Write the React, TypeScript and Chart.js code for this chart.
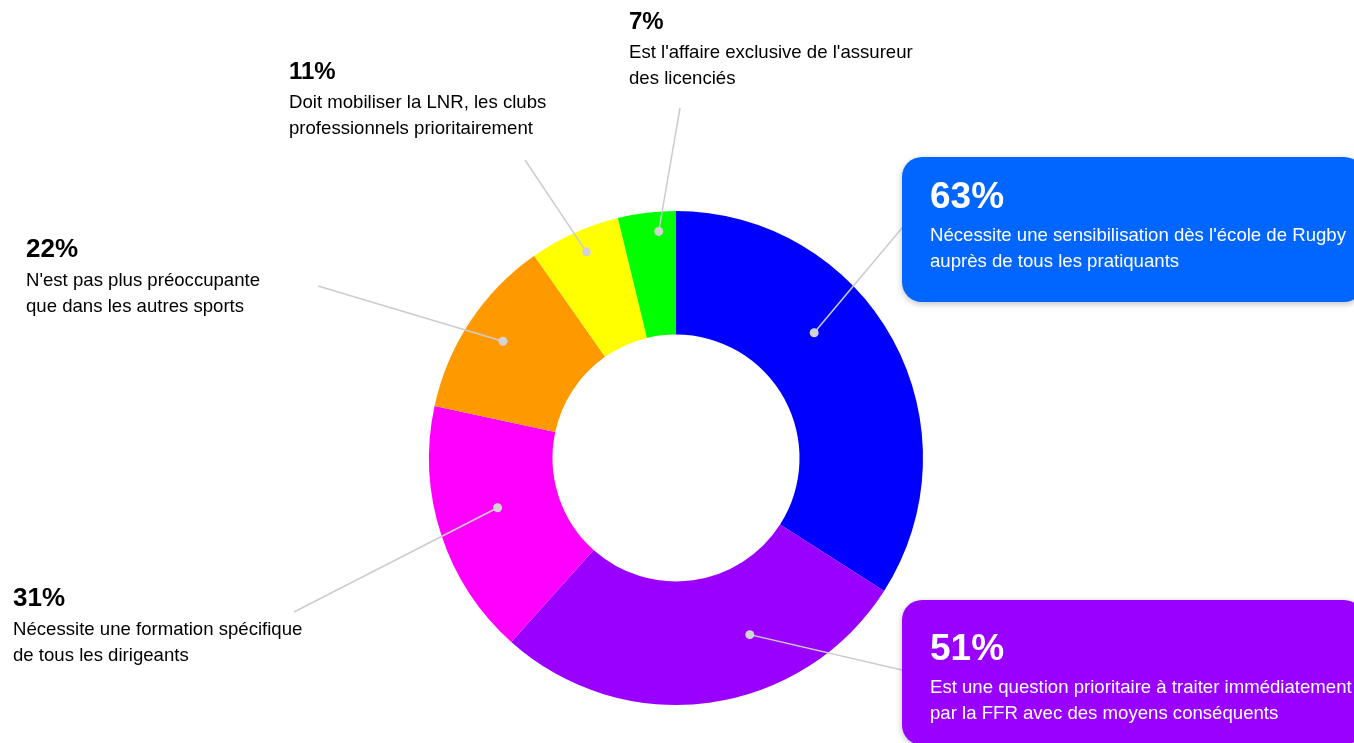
import React, { useEffect, useRef } from "react";
import { Chart, registerables } from "chart.js";

Chart.register(...registerables);

// ---- Data ----
const categories: string[][] = [
  ["Nécessite une sensibilisation dès l'école de Rugby", "auprès de tous les pratiquants"],
  ["Est une question prioritaire à traiter immédiatement", "par la FFR avec des moyens conséquents"],
  ["Nécessite une formation spécifique", "de tous les dirigeants"],
  ["N'est pas plus préoccupante", "que dans les autres sports"],
  ["Doit mobiliser la LNR, les clubs", "professionnels prioritairement"],
  ["Est l'affaire exclusive de l'assureur", "des licenciés"],
];
const values: number[] = [63, 51, 31, 22, 11, 7];
const sliceColors: string[] = ["#0000ff", "#9900ff", "#ff00ff", "#ff9900", "#ffff00", "#00ff00"];
const boxColors: (string | null)[] = ["#0066ff", "#9900ff", null, null, null, null];

// ---- Callout layout (text position, leader start, anchor inside slice) ----
const calloutLayout = [
  { x: 930, y: 208, t: 37, lx: 902, ly: 228, f: 0.39, r: 0.51, box: { x: 902, y: 157, w: 462, h: 145 } },
  { x: 930, y: 660, t: 37, lx: 902, ly: 670, f: 0.35, r: 0.55, box: { x: 902, y: 600, w: 462, h: 145 } },
  { x: 13, y: 606, t: 26, lx: 294, ly: 612, f: 0.54, r: 0.5, box: null },
  { x: 26, y: 257, t: 26, lx: 318, ly: 286, f: 0.51, r: 0.69, box: null },
  { x: 289, y: 79, t: 24, lx: 525, ly: 160, f: 0.54, r: 0.82, box: null },
  { x: 629, y: 29, t: 24, lx: 680, ly: 108, f: 0.68, r: 0.84, box: null },
];

const FONT = "'Liberation Sans', Arial, sans-serif";

const calloutPlugin = {
  id: "callouts",
  afterDatasetsDraw(chart: any) {
    const ctx: CanvasRenderingContext2D = chart.ctx;
    const meta = chart.getDatasetMeta(0);
    ctx.save();
    // leader lines + dots
    meta.data.forEach((arc: any, i: number) => {
      const L = calloutLayout[i];
      const p = arc.getProps(["x", "y", "startAngle", "endAngle", "innerRadius", "outerRadius"], true);
      const a = p.startAngle + L.f * (p.endAngle - p.startAngle);
      const rad = p.innerRadius + L.r * (p.outerRadius - p.innerRadius);
      const dx = p.x + Math.cos(a) * rad;
      const dy = p.y + Math.sin(a) * rad;
      ctx.strokeStyle = "#cccccc";
      ctx.lineWidth = 1.5;
      ctx.beginPath();
      ctx.moveTo(L.lx, L.ly);
      ctx.lineTo(dx, dy);
      ctx.stroke();
      ctx.fillStyle = "#d3d3d3";
      ctx.beginPath();
      ctx.arc(dx, dy, 4.5, 0, Math.PI * 2);
      ctx.fill();
    });
    // labels
    values.forEach((v, i) => {
      const L = calloutLayout[i];
      const boxed = !!L.box && !!boxColors[i];
      if (boxed && L.box) {
        ctx.save();
        ctx.shadowColor = "rgba(0,0,0,0.25)";
        ctx.shadowBlur = 6;
        ctx.shadowOffsetY = 2;
        ctx.fillStyle = boxColors[i] as string;
        ctx.beginPath();
        (ctx as any).roundRect(L.box.x, L.box.y, L.box.w, L.box.h, 20);
        ctx.fill();
        ctx.restore();
      }
      ctx.fillStyle = boxed ? "#ffffff" : "#000000";
      ctx.textAlign = "left";
      ctx.textBaseline = "alphabetic";
      ctx.font = `bold ${L.t}px ${FONT}`;
      ctx.fillText(`${v}%`, L.x, L.y);
      ctx.font = `18.6px ${FONT}`;
      const first = boxed ? 33 : 29;
      categories[i].forEach((line, j) => {
        ctx.fillText(line, L.x, L.y + first + j * 26);
      });
    });
    ctx.restore();
  },
};

export default function App() {
  const ref = useRef<HTMLCanvasElement | null>(null);
  useEffect(() => {
    document.body.style.margin = "0";
    if (!ref.current) return;
    const chart = new Chart(ref.current, {
      type: "doughnut",
      data: {
        labels: categories.map((c) => c.join(" ")),
        datasets: [
          {
            data: values,
            backgroundColor: sliceColors,
            borderWidth: 0,
          },
        ],
      },
      options: {
        responsive: false,
        animation: false,
        cutout: "50%",
        layout: { padding: { top: 211, bottom: 38, left: 429, right: 431 } },
        plugins: {
          legend: { display: false },
          tooltip: { enabled: false },
        },
      },
      plugins: [calloutPlugin],
    });
    return () => chart.destroy();
  }, []);
  return (
    <div style={{ position: "absolute", left: 0, top: 0, width: 1354, height: 743, background: "#fff", overflow: "hidden" }}>
      <canvas ref={ref} width={1354} height={743} />
    </div>
  );
}
